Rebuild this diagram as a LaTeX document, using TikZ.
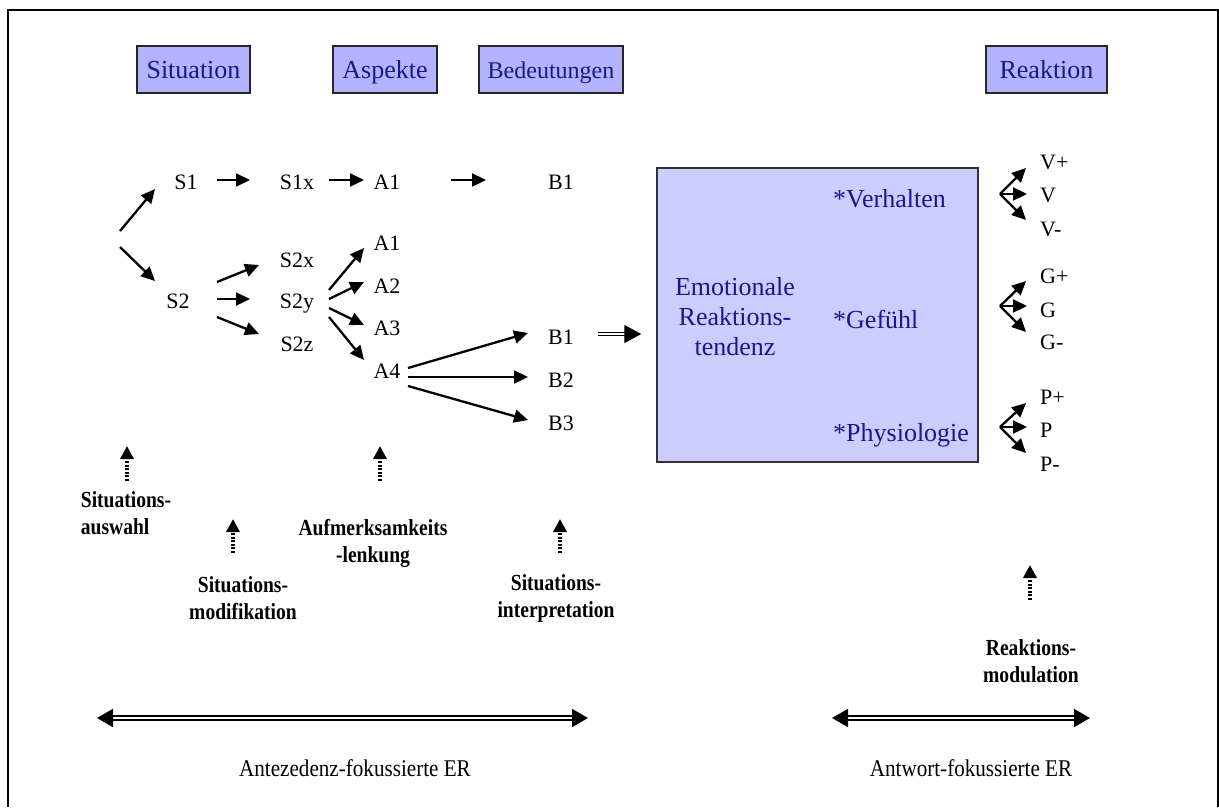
\documentclass[tikz,border=0pt]{standalone}
\usepackage{fontspec}
\setmainfont{Liberation Serif}
\newfontfamily\condfont{Liberation Serif}[FakeStretch=0.85]
\newfontfamily\narrowfont{Liberation Serif}[FakeStretch=0.88]
\usetikzlibrary{arrows.meta,calc}

\definecolor{hdrfill}{RGB}{179,179,255}
\definecolor{emofill}{RGB}{204,204,255}
\definecolor{navytxt}{RGB}{24,24,140}

\begin{document}
\begin{tikzpicture}[x=1pt,y=-1pt,
  hdr/.style={draw=black!85, line width=1.3pt, fill=hdrfill, minimum height=47pt,
    inner sep=0pt, text height=17pt, text depth=0pt,
    font=\fontsize{26}{30}\selectfont, text=navytxt},
  item/.style={inner sep=0pt, text height=15pt, text depth=0pt,
    font=\fontsize{22}{26}\selectfont},
  emotext/.style={inner sep=0pt, text=navytxt, font=\fontsize{26}{30}\selectfont},
  lbl/.style={inner sep=0pt, font=\condfont\bfseries\fontsize{23}{27}\selectfont},
  bottomtext/.style={inner sep=0pt, font=\narrowfont\fontsize{24}{28}\selectfont},
  arr/.style={line width=2.3pt, -{Triangle[length=14pt,width=13pt]}},
  dotarr/.style={line width=3.6pt, dash pattern=on 2pt off 1.6pt,
    -{Triangle[length=13pt,width=13pt]}},
  dblarr/.style={double, double distance=2pt, line width=2pt,
    {Triangle[length=16pt,width=18pt]}-{Triangle[length=16pt,width=18pt]}},
  thinarr/.style={double, double distance=1.6pt, line width=1.4pt,
    -{Triangle[length=17pt,width=18pt]}}
]
\useasboundingbox (0,0) rectangle (1219,807);

% outer frame (open at the bottom)
\draw[line width=2pt] (8,807) -- (8,10) -- (1218,10) -- (1218,807);

% column headers
\node[hdr, minimum width=113pt] (hsit) at (193.5,69.5) {Situation};
\node[hdr, minimum width=104pt] (hasp) at (385,69.5) {Aspekte};
\node[hdr, minimum width=144pt, font=\fontsize{24}{28}\selectfont] (hbed) at (551,69.5) {Bedeutungen};
\node[hdr, minimum width=121pt] (hrea) at (1046.5,69.5) {Reaktion};

% situations, aspects and meanings
\coordinate (fork) at (120,239);
\node[item] (s1)  at (186,182) {S1};
\node[item] (s1x) at (297,182) {S1x};
\node[item] (a1t) at (387,182) {A1};
\node[item] (b1t) at (561,182) {B1};

\node[item] (s2)  at (178,301) {S2};
\node[item] (s2x) at (297,260) {S2x};
\node[item] (s2y) at (297,301) {S2y};
\node[item] (s2z) at (297,344) {S2z};

\node[item] (a1) at (387,243) {A1};
\node[item] (a2) at (387,286) {A2};
\node[item] (a3) at (387,328) {A3};
\node[item] (a4) at (387,371) {A4};

\node[item] (b1) at (561,337) {B1};
\node[item] (b2) at (561,380) {B2};
\node[item] (b3) at (561,423) {B3};

% arrows of the upper path
\draw[arr] ($(fork)+(0,-8)$) -- ($(s1)+(-31,7)$);
\draw[arr] ($(fork)+(0,8)$) -- ($(s2)+(-23,-20)$);
\draw[arr] ($(s1)+(31,-2)$) -- ($(s1x)+(-47,-2)$);
\draw[arr] ($(s1x)+(32,-2)$) -- ($(a1t)+(-23,-2)$);
\draw[arr] ($(a1t)+(64,-2)$) -- ($(b1t)+(-75,-2)$);

% arrows of the lower path
\draw[arr] ($(s2)+(39,-19)$) -- ($(s2x)+(-38,5)$);
\draw[arr] ($(s2)+(39,-2)$) -- ($(s2y)+(-47,-2)$);
\draw[arr] ($(s2)+(39,16)$) -- ($(s2z)+(-38,-10)$);
\draw[arr] ($(s2y)+(32,-11)$) -- ($(a1)+(-23,5)$);
\draw[arr] ($(s2y)+(32,-2)$) -- ($(a2)+(-23,-4)$);
\draw[arr] ($(s2y)+(32,7)$) -- ($(a3)+(-23,-3)$);
\draw[arr] ($(s2y)+(32,16)$) -- ($(a4)+(-23,-11)$);
\draw[arr] ($(a4)+(21,-3)$) -- ($(b1)+(-33,-4)$);
\draw[arr] ($(a4)+(21,6)$) -- ($(b2)+(-33,-3)$);
\draw[arr] ($(a4)+(21,15)$) -- ($(b3)+(-33,-3)$);

% emotional response tendency
\node[draw=black!80, line width=1.5pt, fill=emofill, minimum width=321pt,
  minimum height=294pt, inner sep=0pt] (emo) at (817.5,315) {};
\node[emotext, align=center] (emoname) at (735,317) {Emotionale\\Reaktions-\\tendenz};
\node[emotext, anchor=west, text height=17pt, text depth=0pt] (verh) at (833,199) {*Verhalten};
\node[emotext, anchor=west, text height=17pt, text depth=0pt] (gef) at (833,320) {*Gefühl};
\node[emotext, anchor=west, text height=17pt, text depth=0pt] (phys) at (833,433) {*Physiologie};

\draw[thinarr] ($(b1)+(37,-3)$) -- ($(emo.west)+(-15,19)$);

% response components
\node[item, anchor=west] (vp) at (1040,162) {V+};
\node[item, anchor=west] (v)  at (1040,195) {V};
\node[item, anchor=west] (vm) at (1040,229) {V-};
\node[item, anchor=west] (gp) at (1040,276) {G+};
\node[item, anchor=west] (g)  at (1040,310) {G};
\node[item, anchor=west] (gm) at (1040,342) {G-};
\node[item, anchor=west] (pp) at (1040,397) {P+};
\node[item, anchor=west] (p)  at (1040,430) {P};
\node[item, anchor=west] (pm) at (1040,464) {P-};

\coordinate (vfork) at (1000,194);
\coordinate (gfork) at (1000,306);
\coordinate (pfork) at (1000,427);
\draw[arr] (vfork) -- ($(vp.west)+(-14,6)$);
\draw[arr] (vfork) -- ($(v.west)+(-13,-1)$);
\draw[arr] (vfork) -- ($(vm.west)+(-14,-9)$);
\draw[arr] (gfork) -- ($(gp.west)+(-14,5)$);
\draw[arr] (gfork) -- ($(g.west)+(-13,-4)$);
\draw[arr] (gfork) -- ($(gm.west)+(-14,-10)$);
\draw[arr] (pfork) -- ($(pp.west)+(-14,6)$);
\draw[arr] (pfork) -- ($(p.west)+(-13,-3)$);
\draw[arr] (pfork) -- ($(pm.west)+(-14,-11)$);

% regulation strategies
\node[lbl, align=left]   (lab1) at (126,513)  {Situations-\\auswahl};
\node[lbl, align=center] (lab2) at (243,598)  {Situations-\\modifikation};
\node[lbl, align=center] (lab3) at (373,543)  {Aufmerksamkeits\\-lenkung};
\node[lbl, align=center] (lab4) at (556,598)  {Situations-\\interpretation};
\node[lbl, align=center] (lab5) at (1031,661) {Reaktions-\\modulation};

\draw[dotarr] ($(lab1)+(1,-32)$) -- ($(lab1)+(1,-67)$);
\draw[dotarr] ($(lab2)+(-10,-45)$) -- ($(lab2)+(-10,-79)$);
\draw[dotarr] ($(lab3)+(7,-62)$) -- ($(lab3)+(7,-97)$);
\draw[dotarr] ($(lab4)+(4,-45)$) -- ($(lab4)+(4,-79)$);
\draw[dotarr] ($(lab5)+(-1,-61)$) -- ($(lab5)+(-1,-96)$);

% antecedent- and response-focused regulation
\coordinate (la) at (97,718);
\coordinate (lb) at (588,718);
\coordinate (ra) at (832,718);
\coordinate (rb) at (1090,718);
\draw[dblarr] (la) -- (lb);
\draw[dblarr] (ra) -- (rb);
\node[bottomtext] (antz) at (355,768) {Antezedenz-fokussierte ER};
\node[bottomtext] (antw) at (971,768) {Antwort-fokussierte ER};
\end{tikzpicture}
\end{document}
